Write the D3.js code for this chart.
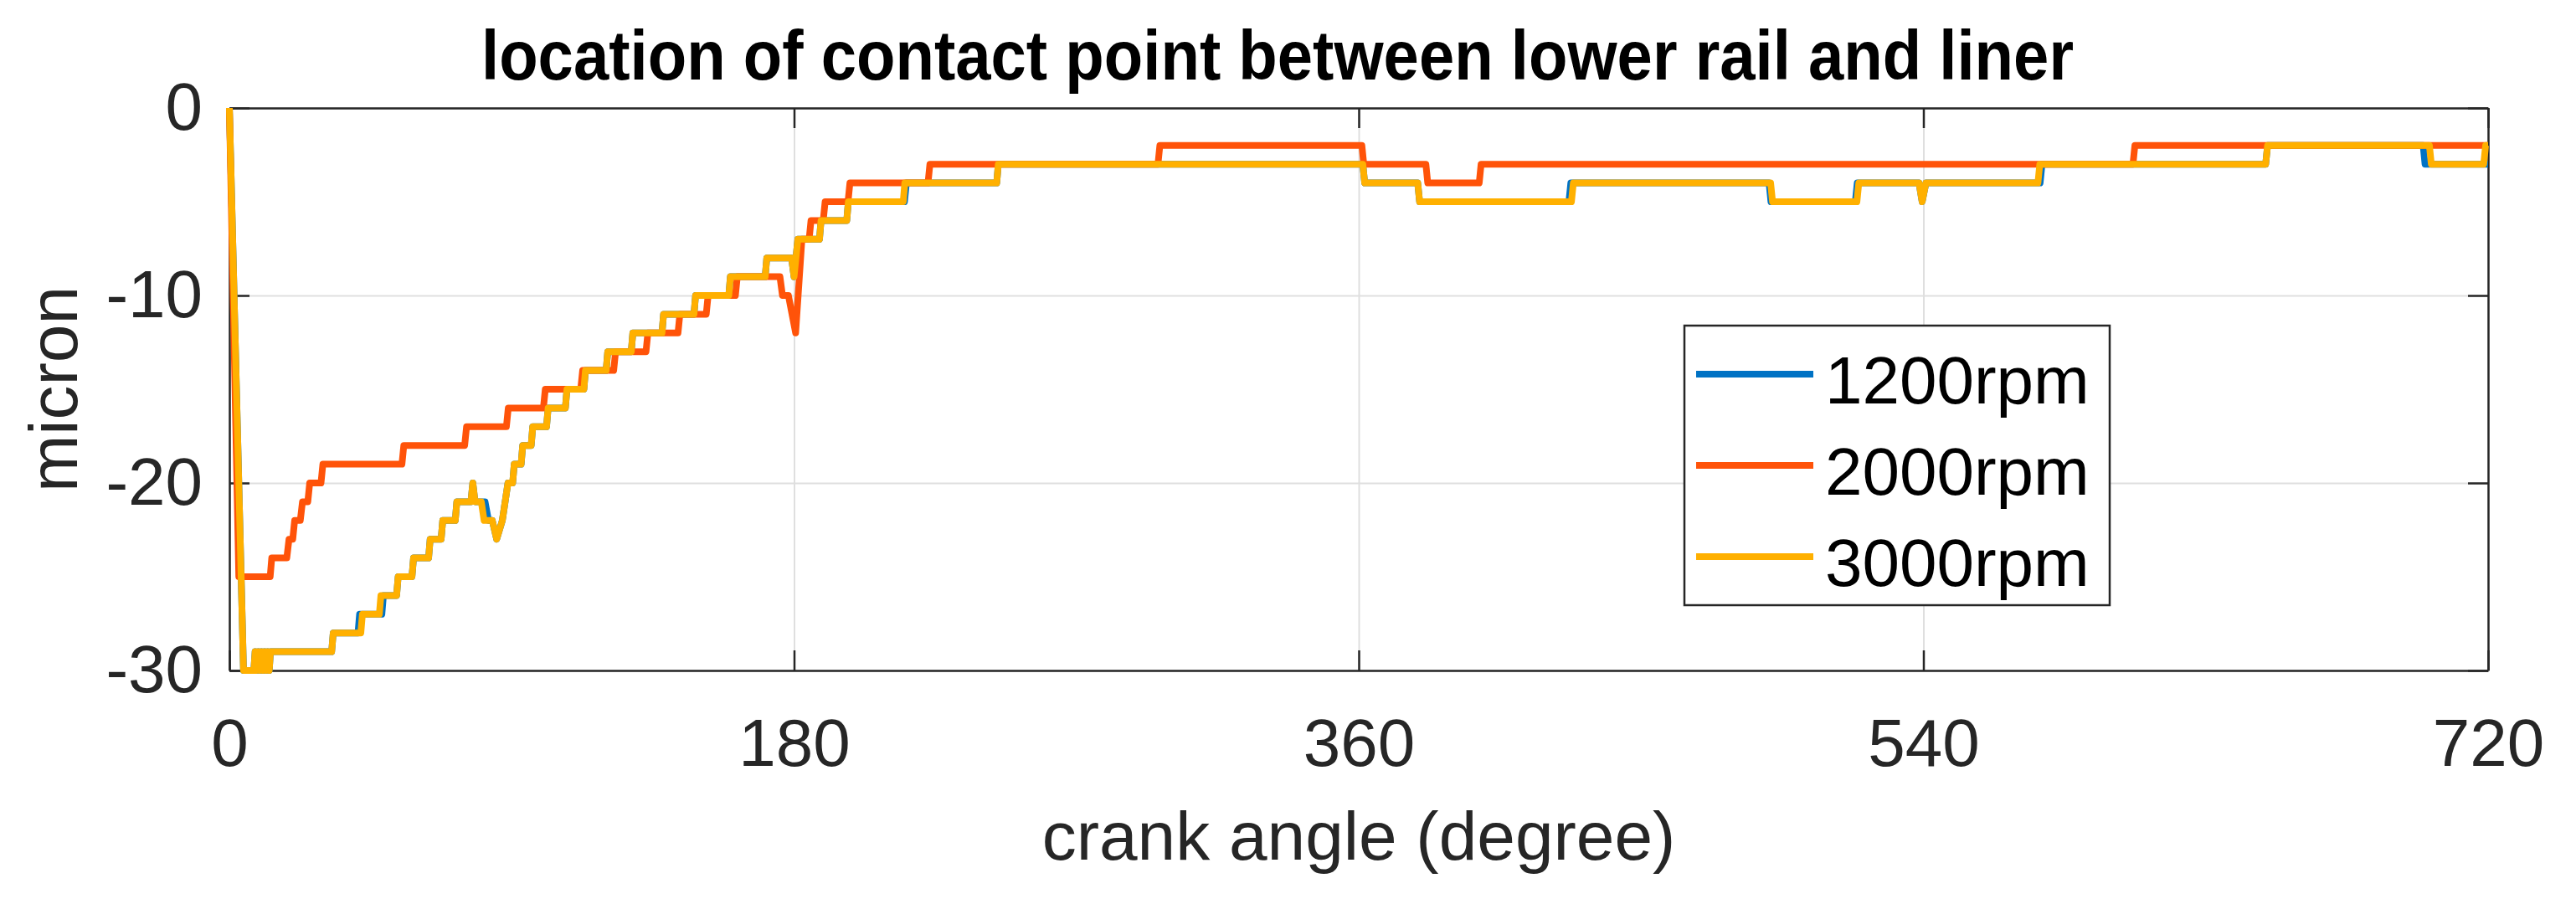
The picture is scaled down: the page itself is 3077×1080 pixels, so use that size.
<!DOCTYPE html>
<html>
<head>
<meta charset="utf-8">
<script src="https://cdn.jsdelivr.net/npm/d3@7"></script>
<style>
  body { margin: 0; background: #fff; }
  svg text { font-family: "Liberation Sans", Arial, Helvetica, sans-serif; }
</style>
</head>
<body>
<div id="chart"></div>
<script>
// values: [crank angle (deg), contact point (micron)]
const rpm1200 = [[0,0],[4.5,-30],[7.8,-30],[8.2,-29],[8.7,-30],[9.2,-29],[9.7,-30],[10.2,-29],[10.7,-30],[11.2,-29],[11.7,-30],[12.2,-29],[12.7,-30],[13.1,-29],
  [32.6,-29],[33.1,-28],[41.0,-28],[41.5,-27],[48.6,-27],[49.1,-26],[53.3,-26],[53.8,-25],[58.2,-25],[58.7,-24],[63.5,-24],[64.0,-23],[67.5,-23],[68.0,-22],
  [72.0,-22],[72.5,-21],[77.0,-21],[77.6,-20],[78.3,-21],[81.5,-21],[82.6,-22],[83.8,-22],[85.2,-23],[87.0,-22],[88.8,-20],[90.3,-20],[90.8,-19],[93.0,-19],
  [93.5,-18],[96.2,-18],[96.7,-17],[101.1,-17],[101.6,-16],[107.1,-16],[107.6,-15],[113.0,-15],[113.5,-14],[120.1,-14],[120.6,-13],[128.1,-13],[128.6,-12],
  [137.9,-12],[138.4,-11],[148.1,-11],[148.6,-10],[159.2,-10],[159.7,-9],[170.8,-9],[171.3,-8],[179.2,-8],[180.0,-9],[181.2,-7],[188.1,-7],[188.6,-6],
  [196.8,-6],[197.3,-5],[215.2,-5],[215.8,-4],[244.6,-4],[245.1,-3],[361.3,-3],[361.9,-4],[378.8,-4],[379.4,-5],[427.0,-5],[427.6,-4],[490.8,-4],[491.4,-5],
  [518.3,-5],[518.9,-4],[538.6,-4],[539.6,-5],[540.8,-4],[577.2,-4],[577.8,-3],[649.1,-3],[649.7,-2],[699.3,-2],[699.9,-3],[720,-3]];

const rpm2000 = [[0,0],[3,-25],[13,-25],[13.5,-24],[18.3,-24],[19,-23],[20.2,-23],[20.8,-22],[22.6,-22],[23.3,-21],[25,-21],[25.6,-20],[29.2,-20],[29.8,-19],
  [55,-19],[55.6,-18],[75,-18],[75.6,-17],[88.3,-17],[88.9,-16],[100.1,-16],[100.7,-15],[112,-15],[112.6,-14],[122.5,-14],[123.1,-13],[132.8,-13],[133.4,-12],
  [143,-12],[143.6,-11],[152,-11],[152.6,-10],[161.3,-10],[161.9,-9],[175.5,-9],[176.3,-10],[178.2,-10],[180.5,-12],[182.5,-7],[184.8,-7],[185.4,-6],
  [189.3,-6],[189.9,-5],[197.2,-5],[197.8,-4],[222.7,-4],[223.3,-3],[296,-3],[296.6,-2],[361,-2],[361.6,-3],[381.4,-3],[382,-4],[398.4,-4],[399,-3],
  [606.8,-3],[607.4,-2],[720,-2]];

const rpm3000 = [[0,0],[4.5,-30],[7.8,-30],[8.2,-29],[8.7,-30],[9.2,-29],[9.7,-30],[10.2,-29],[10.7,-30],[11.2,-29],[11.7,-30],[12.2,-29],[12.7,-30],[13.1,-29],
  [32.6,-29],[33.1,-28],[41.9,-28],[42.4,-27],[47.8,-27],[48.3,-26],[53.3,-26],[53.8,-25],[58.2,-25],[58.7,-24],[63.5,-24],[64.0,-23],[67.5,-23],[68.0,-22],
  [72.0,-22],[72.5,-21],[77.0,-21],[77.6,-20],[78.3,-21],[80.3,-21],[81.2,-22],[83.8,-22],[85.2,-23],[87.0,-22],[88.8,-20],[90.3,-20],[90.8,-19],[93.0,-19],
  [93.5,-18],[96.2,-18],[96.7,-17],[101.1,-17],[101.6,-16],[107.1,-16],[107.6,-15],[113.0,-15],[113.5,-14],[120.1,-14],[120.6,-13],[128.1,-13],[128.6,-12],
  [137.9,-12],[138.4,-11],[148.1,-11],[148.6,-10],[159.2,-10],[159.7,-9],[170.8,-9],[171.3,-8],[179.2,-8],[180.0,-9],[181.2,-7],[188.1,-7],[188.6,-6],
  [196.8,-6],[197.3,-5],[214.8,-5],[215.3,-4],[244.6,-4],[245.1,-3],[361.3,-3],[361.9,-4],[378.8,-4],[379.4,-5],[427.8,-5],[428.4,-4],[491.3,-4],[491.9,-5],
  [518.8,-5],[519.4,-4],[538.6,-4],[539.6,-5],[540.8,-4],[576.5,-4],[577.1,-3],[649.1,-3],[649.7,-2],[701.3,-2],[701.9,-3],[718.6,-3],[719.2,-2],[720,-2]];

const seriesNames = ["1200rpm", "2000rpm", "3000rpm"];
const xTicks = [0, 180, 360, 540, 720];
const yTicks = [-30, -20, -10, 0];

const colors = ["#0072c4", "#ff5309", "#ffb000"];
const W = 3077, H = 1080;
const margin = {top: 129, right: 105, bottom: 279, left: 274};
const plotW = W - margin.left - margin.right;
const plotH = H - margin.top - margin.bottom;
const font = "'Liberation Sans', Arial, Helvetica, sans-serif";
const axisColor = "#262626";
const lineWidth = 8;

const svg = d3.select("#chart")
  .append("svg")
  .attr("width", W)
  .attr("height", H)
  .style("background", "#fff");

const g = svg.append("g")
  .attr("transform", "translate(" + margin.left + "," + margin.top + ")");

const x = d3.scaleLinear()
  .domain([0, 720])
  .range([0, plotW]);

const y = d3.scaleLinear()
  .domain([-30, 0])
  .range([plotH, 0]);

// grid
g.append("g")
  .attr("class", "grid")
  .attr("transform", "translate(0," + plotH + ")")
  .call(d3.axisBottom(x).tickValues(xTicks).tickSize(-plotH).tickFormat(""))
  .call(s => s.select(".domain").remove());
g.append("g")
  .attr("class", "grid")
  .call(d3.axisLeft(y).tickValues(yTicks).tickSize(-plotW).tickFormat(""))
  .call(s => s.select(".domain").remove());
g.selectAll(".grid line")
  .attr("stroke", "#dfdfdf")
  .attr("stroke-width", 2);

// box axes with inward ticks
const xAxis = g.append("g")
  .attr("transform", "translate(0," + plotH + ")")
  .call(d3.axisBottom(x).tickValues(xTicks).tickSizeInner(-24).tickSizeOuter(0).tickPadding(57));
const yAxis = g.append("g")
  .call(d3.axisLeft(y).tickValues(yTicks).tickSizeInner(-24).tickSizeOuter(0).tickPadding(32)
    .tickFormat(d => d < 0 ? "-" + Math.abs(d) : d));
const topAxis = g.append("g")
  .call(d3.axisTop(x).tickValues(xTicks).tickSizeInner(-24).tickSizeOuter(0).tickFormat(""));
const rightAxis = g.append("g")
  .attr("transform", "translate(" + plotW + ",0)")
  .call(d3.axisRight(y).tickValues(yTicks).tickSizeInner(-24).tickSizeOuter(0).tickFormat(""));

[xAxis, yAxis, topAxis, rightAxis].forEach(a => {
  a.attr("font-size", 80).attr("font-family", font);
  a.selectAll("path, line").attr("stroke", axisColor).attr("stroke-width", 2.5);
  a.selectAll("text").attr("fill", axisColor);
});

// series
const line = d3.line()
  .x(d => x(d[0]))
  .y(d => y(d[1]));

[rpm1200, rpm2000, rpm3000].forEach((data, i) => {
  g.append("path")
    .datum(data)
    .attr("fill", "none")
    .attr("stroke", colors[i])
    .attr("stroke-width", lineWidth)
    .attr("stroke-linejoin", "round")
    .attr("d", line);
});

// title and labels
svg.append("text")
  .attr("x", 1526)
  .attr("y", 95)
  .attr("text-anchor", "middle")
  .attr("font-size", 84)
  .attr("font-weight", "bold")
  .attr("textLength", 1902)
  .attr("lengthAdjust", "spacingAndGlyphs")
  .attr("fill", "#000")
  .text("location of contact point between lower rail and liner");

svg.append("text")
  .attr("x", margin.left + plotW / 2)
  .attr("y", 1027)
  .attr("text-anchor", "middle")
  .attr("font-size", 82)
  .attr("fill", axisColor)
  .text("crank angle (degree)");

svg.append("text")
  .attr("transform", "translate(92," + (margin.top + plotH / 2) + ") rotate(-90)")
  .attr("text-anchor", "middle")
  .attr("font-size", 82)
  .attr("fill", axisColor)
  .text("micron");

// legend
const legend = svg.append("g")
  .attr("transform", "translate(2012,389)");

legend.append("rect")
  .attr("width", 508)
  .attr("height", 334)
  .attr("fill", "#fff")
  .attr("stroke", axisColor)
  .attr("stroke-width", 2.5);

const items = legend.selectAll(".item")
  .data(seriesNames)
  .enter()
  .append("g")
  .attr("class", "item")
  .attr("transform", (d, i) => "translate(0," + (58 + i * 109) + ")");

items.append("line")
  .attr("x1", 14)
  .attr("x2", 154)
  .attr("stroke", (d, i) => colors[i])
  .attr("stroke-width", lineWidth);

items.append("text")
  .attr("x", 168)
  .attr("y", 35)
  .attr("font-size", 80)
  .attr("fill", "#000")
  .text(d => d);
</script>
</body>
</html>
